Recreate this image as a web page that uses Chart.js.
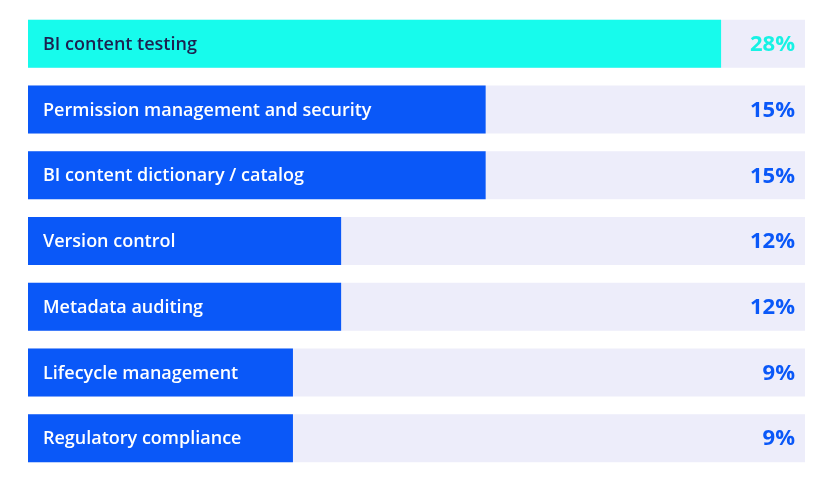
<!DOCTYPE html>
<html><head><meta charset="utf-8">
<script src="https://cdn.jsdelivr.net/npm/chart.js@4"></script>
<style>html,body{margin:0;padding:0;background:#fff}#w{width:832px;height:481px}</style>
</head><body><div id="w"><canvas id="c"></canvas></div>
<script>
const categories = ["BI content testing","Permission management and security","BI content dictionary / catalog","Version control","Metadata auditing","Lifecycle management","Regulatory compliance"];
const percentLabels = ["28%","15%","15%","12%","12%","9%","9%"];
const barValues = [89.2, 58.9, 58.9, 40.3, 40.3, 34.1, 34.1];
const trackValues = [100,100,100,100,100,100,100];
const barColors = ["#17fbec","#0a58f8","#0a58f8","#0a58f8","#0a58f8","#0a58f8","#0a58f8"];
const labelColors = ["#1c2150","#ffffff","#ffffff","#ffffff","#ffffff","#ffffff","#ffffff"];
const pctColors = ["#17f2e4","#0a58f8","#0a58f8","#0a58f8","#0a58f8","#0a58f8","#0a58f8"];

const textPlugin = {
  id:'txt',
  afterDatasetsDraw(chart){
    const ctx = chart.ctx, meta = chart.getDatasetMeta(1), area = chart.chartArea;
    ctx.save();
    ctx.textBaseline='middle';
    meta.data.forEach((bar,i)=>{
      ctx.font = '600 18px "Open Sans", sans-serif';
      ctx.fillStyle = labelColors[i]; ctx.textAlign='left';
      ctx.fillText(categories[i], area.left + 15, bar.y+1);
      ctx.font = 'bold 22px "Open Sans", sans-serif';
      ctx.fillStyle = pctColors[i]; ctx.textAlign='right';
      ctx.fillText(percentLabels[i], area.right - 10, bar.y+1);
    });
    ctx.restore();
  }
};

new Chart(document.getElementById('c'), {
  type:'bar',
  data:{ labels:categories, datasets:[
    {data:trackValues, backgroundColor:'#ededfa', grouped:false, order:2, barPercentage:0.73, categoryPercentage:1},
    {data:barValues, backgroundColor:barColors, grouped:false, order:1, barPercentage:0.73, categoryPercentage:1}
  ]},
  options:{
    indexAxis:'y', responsive:true, maintainAspectRatio:false, animation:false,
    layout:{padding:{left:28,right:27,top:11,bottom:10}},
    scales:{ x:{display:false,min:0,max:100}, y:{display:false} },
    plugins:{legend:{display:false}, tooltip:{enabled:false}}
  },
  plugins:[textPlugin]
});
</script></body></html>
